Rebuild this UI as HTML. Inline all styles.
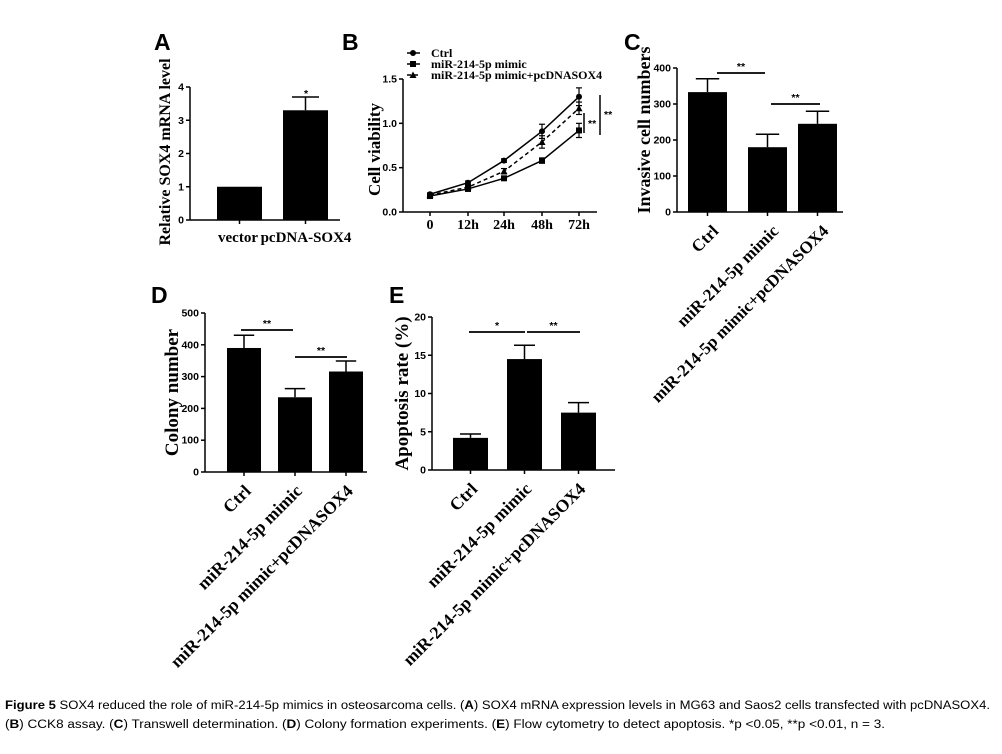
<!DOCTYPE html>
<html><head><meta charset="utf-8"><style>
html,body{margin:0;padding:0;background:#fff;}
svg{display:block;}
.lab{font-family:"Liberation Sans",sans-serif;font-weight:bold;font-size:23px;}
.tk{font-family:"Liberation Sans",sans-serif;font-weight:bold;font-size:10.5px;}
.ser{font-family:"Liberation Serif",serif;font-weight:bold;}
.cap{font-family:"Liberation Sans",sans-serif;font-size:11.5px;}
</style></head><body>
<svg id="fig" width="1002" height="754" viewBox="0 0 1002 754">
<g id="root"></g>
<text class="cap" x="5" y="709" textLength="985" lengthAdjust="spacingAndGlyphs"><tspan font-weight="bold">Figure 5</tspan> SOX4 reduced the role of miR-214-5p mimics in osteosarcoma cells. (<tspan font-weight="bold">A</tspan>) SOX4 mRNA expression levels in MG63 and Saos2 cells transfected with pcDNASOX4.</text>
<text class="cap" x="5" y="728" textLength="880" lengthAdjust="spacingAndGlyphs">(<tspan font-weight="bold">B</tspan>) CCK8 assay. (<tspan font-weight="bold">C</tspan>) Transwell determination. (<tspan font-weight="bold">D</tspan>) Colony formation experiments. (<tspan font-weight="bold">E</tspan>) Flow cytometry to detect apoptosis. *p &lt;0.05, **p &lt;0.01, n = 3.</text>
</svg>
<script>
// Panel A
const aCats=["vector","pcDNA-SOX4"];
const aVals=[1,3.3];
const aErr=[0,0.4];
const aTicks=[0,1,2,3,4];
// Panel B
const bTimes=["0","12h","24h","48h","72h"];
const bCtrl=[0.2,0.33,0.58,0.91,1.3];
const bMimic=[0.18,0.26,0.38,0.58,0.92];
const bCombo=[0.19,0.28,0.46,0.79,1.17];
const bCtrlErr=[0.015,0.02,0.02,0.08,0.1];
const bMimicErr=[0.015,0.02,0.02,0.03,0.08];
const bComboErr=[0.015,0.02,0.03,0.07,0.07];
const bTicks=[0,0.5,1.0,1.5];
// Panels C,D,E
const grpCats=["Ctrl","miR-214-5p mimic","miR-214-5p mimic+pcDNASOX4"];
const cVals=[333,180,245];
const cErr=[37,36,35];
const cTicks=[0,100,200,300,400];
const dVals=[390,235,316];
const dErr=[40,27,33];
const dTicks=[0,100,200,300,400,500];
const eVals=[4.2,14.5,7.5];
const eErr=[0.5,1.8,1.3];
const eTicks=[0,5,10,15,20];

const NS="http://www.w3.org/2000/svg";
const root=document.getElementById('root');
function el(tag,attrs,parent,text){const e=document.createElementNS(NS,tag);for(const k in attrs)e.setAttribute(k,attrs[k]);if(text!==undefined)e.textContent=text;(parent||root).appendChild(e);return e;}
function line(x1,y1,x2,y2,w,p,dash){const l=el('line',{x1,y1,x2,y2,stroke:'#000','stroke-width':w||1.5},p);if(dash)l.setAttribute('stroke-dasharray',dash);return l;}

function barPanel(o){
  const g=el('g',{});
  
  
  const y=v=>o.y0-(v-o.ticks[0])/(o.ticks[o.ticks.length-1]-o.ticks[0])*(o.y0-o.y1);
  const L=el('text',{class:'lab',x:o.lx,y:o.ly},g,o.letter);
  
  
  line(o.ax,o.y0,o.ax,o.y1,1.5,g);
  line(o.ax,o.y0,o.axEnd,o.y0,1.5,g);
  o.ticks.forEach(t=>{line(o.ax-4,y(t),o.ax,y(t),1.5,g);
    const tt=el('text',{class:'tk','text-anchor':'end',x:o.ax-6,y:y(t)+3.5},g,String(t));
    
    });
  const yt=el('text',{class:'ser','font-size':o.tsize||18,'text-anchor':'middle',transform:`translate(${o.tx},${o.tcy!==undefined?o.tcy:(o.y0+o.y1)/2+(o.tdy||0)}) rotate(-90)`},g,o.title);
  
  
  o.vals.forEach((v,i)=>{
    const x0=o.bx[i], w=o.bw, cx=x0+w/2;
    if(o.err[i]>0){line(cx,y(v),cx,y(v+o.err[i]),1.5,g);line(cx-w*0.3,y(v+o.err[i]),cx+w*0.3,y(v+o.err[i]),1.5,g);}
    const r=el('rect',{x:x0,y:y(v),width:w,height:o.y0-y(v),fill:'#000'},g);
    
    
    line(cx,o.y0,cx,o.y0+4,1.5,g);
    let t;
    if(o.rot){t=el('text',{class:'ser','font-size':o.xsize||17,'text-anchor':'end',transform:`translate(${cx+(o.lxo||9)},${o.y0+20}) rotate(-45)`},g,o.cats[i]);}
    else{t=el('text',{class:'ser','font-size':15,'text-anchor':'middle',x:o.xlx[i],y:o.y0+22},g,o.cats[i]);}
    
    
  });
  (o.sig||[]).forEach(s=>{line(s[0],s[2],s[1],s[2],1.8,g);
    const st=el('text',{class:'tk','font-size':9,'text-anchor':'middle',x:(s[0]+s[1])/2,y:s[2]-3},g,s[3]);
    
    });
  return g;
}

// A
barPanel({name:'panel-a-sox4-mrna',letter:'A',lx:154,ly:50,ax:190,axEnd:340,y0:220,y1:87,ticks:aTicks,vals:aVals,err:aErr,cats:aCats,bx:[217,283],bw:45,title:'Relative SOX4 mRNA level',tx:170,tsize:16,tcy:152,rot:false,xlx:[238,306]});
el('text',{class:'tk','font-size':9,'text-anchor':'middle',x:306,y:97},root,'*');

// C
barPanel({name:'panel-c-invasion',letter:'C',lx:624,ly:50,ax:677,axEnd:843,y0:212,y1:68,ticks:cTicks,vals:cVals,err:cErr,cats:grpCats,bx:[688,748,798],bw:39,title:'Invasive cell numbers',tx:650,tsize:18,tdy:-10,rot:true,xsize:17,lxo:12,sig:[[717,765,73,'**'],[771,820,104,'**']]});
// D
barPanel({name:'panel-d-colony',letter:'D',lx:151,ly:303,ax:205,axEnd:367,y0:472,y1:313,ticks:dTicks,vals:dVals,err:dErr,cats:grpCats,bx:[227,278,329],bw:34,title:'Colony number',tx:178,tsize:19,rot:true,xsize:17.5,lxo:8,sig:[[241,293,330,'**'],[295,347,357,'**']]});
// E
barPanel({name:'panel-e-apoptosis',letter:'E',lx:389,ly:303,ax:432,axEnd:615,y0:470,y1:317,ticks:eTicks,vals:eVals,err:eErr,cats:grpCats,bx:[453,507,561],bw:35,title:'Apoptosis rate (%)',tx:408,tsize:19,rot:true,xsize:17.5,lxo:8,sig:[[469,525,332,'*'],[527,580,332,'**']]});

// B line chart
(function(){
  const g=el('g',{});
  
  
  const L=el('text',{class:'lab',x:342,y:50},g,'B');
  
  
  const ax=403,y0=212,y1=79,xs=[430,468,504,542,579];
  const y=v=>y0-v/1.5*(y0-y1);
  line(ax,y0,ax,y1,1.5,g);line(ax,y0,597,y0,1.5,g);
  bTicks.forEach(t=>{line(ax-4,y(t),ax,y(t),1.5,g);
    const tt=el('text',{class:'tk','text-anchor':'end',x:ax-6,y:y(t)+3.5},g,t.toFixed(1));
    
    });
  bTimes.forEach((c,i)=>{line(xs[i],y0,xs[i],y0+4,1.5,g);
    const tt=el('text',{class:'ser','font-size':14,'text-anchor':'middle',x:xs[i],y:y0+17},g,c);
    
    });
  const yt=el('text',{class:'ser','font-size':17,'text-anchor':'middle',transform:`translate(380,${(y0+y1)/2+4}) rotate(-90)`},g,'Cell viability');
  
  
  const series=[[bCtrl,bCtrlErr,'circle',null,'ctrl'],[bMimic,bMimicErr,'square',null,'mimic'],[bCombo,bComboErr,'triangle','4,3','mimic-pcdnasox4']];
  function marker(type,x,yy,p){
    if(type==='circle')return el('circle',{cx:x,cy:yy,r:3,fill:'#000'},p);
    if(type==='square')return el('rect',{x:x-3,y:yy-3,width:6,height:6,fill:'#000'},p);
    return el('polygon',{points:`${x},${yy-3.5} ${x-3.5},${yy+3} ${x+3.5},${yy+3}`,fill:'#000'},p);
  }
  series.forEach(s=>{
    const pts=s[0].map((v,i)=>xs[i]+','+y(v)).join(' ');
    const pl=el('polyline',{points:pts,fill:'none',stroke:'#000','stroke-width':1.5},g);
    if(s[3])pl.setAttribute('stroke-dasharray',s[3]);
    
    
    s[0].forEach((v,i)=>{
      line(xs[i],y(v-s[1][i]),xs[i],y(v+s[1][i]),1.2,g);
      line(xs[i]-3,y(v-s[1][i]),xs[i]+3,y(v-s[1][i]),1.2,g);
      line(xs[i]-3,y(v+s[1][i]),xs[i]+3,y(v+s[1][i]),1.2,g);
      const m=marker(s[2],xs[i],y(v),g);
      
      
    });
  });
  const labels=['Ctrl','miR-214-5p mimic','miR-214-5p mimic+pcDNASOX4'];
  [53,64,75].forEach((ly,i)=>{
    const lg=el('g',{},g);
    
    
    line(407,ly,420,ly,1.5,lg,series[i][3]);
    marker(series[i][2],413,ly,lg);
    el('text',{class:'ser','font-size':12,x:431,y:ly+4},lg,labels[i]);
  });
  line(584,113,584,133,1.5,g);
  el('text',{class:'tk','font-size':9,x:588,y:127},g,'**');
  line(600,95,600,135,1.5,g);
  el('text',{class:'tk','font-size':9,x:604,y:118},g,'**');
})();
</script>
</body></html>
